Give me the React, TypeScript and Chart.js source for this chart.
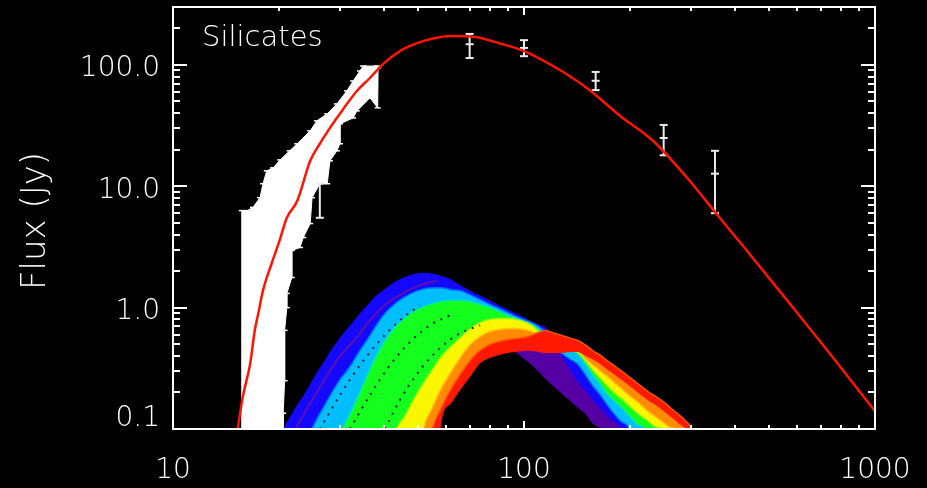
import React, { useEffect, useRef } from "react";
import { Chart, registerables } from "chart.js";

Chart.register(...registerables);

// ---------- data ----------
// shared wavelength grid (micron) for the family of model curves
const GRID_X = [20, 21, 22, 23, 24, 25, 26, 27, 28, 30, 32, 34, 36, 38, 40, 43, 46, 49, 52, 55, 58, 62, 66, 70, 75, 80, 85, 90, 95, 100, 105, 110, 115, 120, 128, 135, 142, 150, 158, 165, 172, 180, 190, 200, 212, 225, 237, 250, 262, 275, 287, 300, 330];

// boundaries of the colour bands (Jy); 0.03 = below the plotted range
const CURVE_P = [0.03, 0.03, 0.097, 0.128, 0.157, 0.194, 0.234, 0.273, 0.323, 0.429, 0.539, 0.676, 0.817, 0.968, 1.106, 1.311, 1.468, 1.584, 1.645, 1.645, 1.584, 1.441, 1.238, 1.044, 0.848, 0.689, 0.57, 0.49, 0.429, 0.383, 0.342, 0.3, 0.262, 0.234, 0.198, 0.173, 0.152, 0.133, 0.11, 0.096, 0.03, 0.03, 0.03, 0.03, 0.03, 0.03, 0.03, 0.03, 0.03, 0.03, 0.03, 0.03, 0.03];
const CURVE_B = [0.075, 0.108, 0.135, 0.167, 0.201, 0.248, 0.3, 0.355, 0.421, 0.559, 0.702, 0.865, 1.044, 1.238, 1.387, 1.614, 1.774, 1.878, 1.913, 1.878, 1.808, 1.676, 1.496, 1.361, 1.238, 1.127, 1.025, 0.95, 0.881, 0.817, 0.757, 0.715, 0.676, 0.559, 0.406, 0.317, 0.253, 0.209, 0.173, 0.152, 0.133, 0.116, 0.1, 0.03, 0.03, 0.03, 0.03, 0.03, 0.03, 0.03, 0.03, 0.03, 0.03];
const CURVE_C = [0.03, 0.03, 0.03, 0.03, 0.07, 0.1, 0.125, 0.152, 0.183, 0.253, 0.323, 0.429, 0.549, 0.702, 0.865, 1.064, 1.215, 1.336, 1.414, 1.441, 1.441, 1.387, 1.361, 1.262, 1.148, 1.044, 0.968, 0.898, 0.832, 0.786, 0.743, 0.689, 0.615, 0.509, 0.429, 0.383, 0.349, 0.283, 0.226, 0.194, 0.164, 0.138, 0.116, 0.1, 0.03, 0.03, 0.03, 0.03, 0.03, 0.03, 0.03, 0.03, 0.03];
const CURVE_G = [0.03, 0.03, 0.03, 0.03, 0.03, 0.03, 0.03, 0.03, 0.03, 0.085, 0.13, 0.19, 0.278, 0.391, 0.509, 0.676, 0.817, 0.932, 1.006, 1.064, 1.106, 1.127, 1.127, 1.106, 1.044, 0.987, 0.915, 0.848, 0.801, 0.757, 0.715, 0.651, 0.581, 0.529, 0.481, 0.454, 0.429, 0.349, 0.278, 0.239, 0.201, 0.176, 0.152, 0.13, 0.11, 0.093, 0.03, 0.03, 0.03, 0.03, 0.03, 0.03, 0.03];
const CURVE_Y = [0.03, 0.03, 0.03, 0.03, 0.03, 0.03, 0.03, 0.03, 0.03, 0.03, 0.03, 0.03, 0.03, 0.03, 0.03, 0.09, 0.128, 0.18, 0.239, 0.305, 0.383, 0.472, 0.559, 0.651, 0.743, 0.786, 0.801, 0.801, 0.786, 0.757, 0.702, 0.627, 0.549, 0.499, 0.463, 0.446, 0.437, 0.369, 0.305, 0.267, 0.234, 0.205, 0.18, 0.157, 0.135, 0.119, 0.106, 0.0945, 0.03, 0.03, 0.03, 0.03, 0.03];
const CURVE_O = [0.03, 0.03, 0.03, 0.03, 0.03, 0.03, 0.03, 0.03, 0.03, 0.03, 0.03, 0.03, 0.03, 0.03, 0.03, 0.03, 0.03, 0.03, 0.1, 0.149, 0.209, 0.289, 0.383, 0.481, 0.57, 0.627, 0.651, 0.663, 0.663, 0.651, 0.627, 0.581, 0.519, 0.481, 0.454, 0.446, 0.446, 0.383, 0.336, 0.305, 0.278, 0.248, 0.217, 0.19, 0.167, 0.143, 0.128, 0.114, 0.104, 0.0945, 0.03, 0.03, 0.03];
const CURVE_R1 = [0.03, 0.03, 0.03, 0.03, 0.03, 0.03, 0.03, 0.03, 0.03, 0.03, 0.03, 0.03, 0.03, 0.03, 0.03, 0.03, 0.03, 0.03, 0.03, 0.096, 0.143, 0.209, 0.278, 0.355, 0.437, 0.49, 0.519, 0.539, 0.549, 0.559, 0.581, 0.615, 0.639, 0.615, 0.581, 0.553, 0.529, 0.481, 0.429, 0.398, 0.362, 0.329, 0.294, 0.262, 0.23, 0.201, 0.183, 0.164, 0.146, 0.13, 0.116, 0.099, 0.03];
const CURVE_R2 = [0.03, 0.03, 0.03, 0.03, 0.03, 0.03, 0.03, 0.03, 0.03, 0.03, 0.03, 0.03, 0.03, 0.03, 0.03, 0.03, 0.03, 0.03, 0.03, 0.03, 0.119, 0.167, 0.217, 0.273, 0.355, 0.391, 0.413, 0.429, 0.437, 0.446, 0.446, 0.437, 0.429, 0.429, 0.429, 0.437, 0.437, 0.406, 0.376, 0.349, 0.317, 0.289, 0.257, 0.23, 0.201, 0.176, 0.16, 0.143, 0.128, 0.114, 0.104, 0.093, 0.03];

// dark violet streak inside the blue edge, and dotted black streaks
const STREAK_X = [22.3, 26.2, 29.3, 33.4, 36.4, 40.7, 45.2, 50.5, 56.5];
const STREAK_Y = [0.1, 0.221, 0.369, 0.57, 0.786, 1.085, 1.311, 1.525, 1.676];
const DOT1_X = [26.2, 29.9, 34.1, 38.9, 44.3, 50.5];
const DOT1_Y = [0.1, 0.19, 0.336, 0.539, 0.786, 1.044];
const DOT2_X = [31.9, 36.4, 41.5, 47.3, 53.9, 61.5];
const DOT2_Y = [0.1, 0.19, 0.336, 0.519, 0.715, 0.865];
const DOT3_X = [40.2, 44.3, 50.5, 57.6, 65.7, 75.0];
const DOT3_Y = [0.1, 0.173, 0.305, 0.463, 0.615, 0.715];

// best-fit model (red)
const FIT_X = [15.2, 15.8, 16.6, 17.1, 17.5, 18.05, 19.1, 20.2, 21.1, 22.6, 24.6, 26.2, 28.0, 30.5, 33.4, 36.4, 39.7, 44.3, 49.6, 55, 61.5, 72.5, 87, 100, 121, 151, 188, 233, 291, 361, 431, 584, 758, 1000];
const FIT_Y = [0.09, 0.183, 0.349, 0.651, 0.898, 1.387, 2.31, 3.7, 5.5, 7.6, 16.2, 22.4, 30.3, 43, 61, 78, 102, 130, 151, 165, 173, 170, 148, 130, 98, 64.6, 38, 23.7, 11.8, 5.5, 2.96, 1.0, 0.39, 0.14];

// photometry with error bars
const PHOT_X = [70, 100, 160, 250, 350];
const PHOT_Y = [148, 138, 74, 25, 12.7];
const PHOT_LO = [114, 118, 62, 18, 6.0];
const PHOT_HI = [180, 160, 87.5, 32, 19.6];

// IRS spectrum envelope (upper edge then lower edge)
const SPEC_UP_X = [15.7, 15.7, 16.3, 16.9, 17.7, 18.05, 18.5, 19.3, 20.2, 21.5, 22.6, 24.6, 25.7, 27.5, 29.3, 31.3, 32.6, 34.1, 34.8, 38.1];
const SPEC_UP_Y = [0.05, 6.3, 6.3, 6.7, 8.05, 10.5, 13.4, 14.2, 16.5, 19.6, 22.4, 28.6, 34.6, 39.5, 47.7, 61.1, 73.7, 89.1, 97.9, 97.9];
const SPEC_LO_X = [38.4, 38.3, 36.4, 33.4, 32.6, 29.9, 29.9, 29.3, 28.0, 27.5, 26.2, 24.9, 24.6, 23.5, 23.0, 21.8, 21.8, 21.1, 21.1, 20.8, 20.8, 20.6, 20.6];
const SPEC_LO_Y = [94.4, 44.3, 53.5, 41.8, 36.6, 32.7, 22.4, 19.6, 16.2, 10.5, 10.5, 8.05, 4.93, 3.78, 3.13, 2.96, 1.77, 1.31, 1.0, 0.65, 0.25, 0.135, 0.05];
const SPEC_BAR_X = [26.2];
const SPEC_BAR_LO = [5.5];
const SPEC_BAR_HI = [10.5];

// axes
const X_MIN = 10, X_MAX = 1000, Y_MIN = 0.1, Y_MAX = 300;
const X_MAJOR = [10, 100, 1000];
const X_LABELS = ["10", "100", "1000"];
const X_MINOR = [20, 30, 40, 50, 60, 70, 80, 90, 200, 300, 400, 500, 600, 700, 800, 900];
const Y_MAJOR = [0.1, 1, 10, 100];
const Y_LABELS = ["0.1", "1.0", "10.0", "100.0"];
const Y_MINOR = [0.2, 0.3, 0.4, 0.5, 0.6, 0.7, 0.8, 0.9, 2, 3, 4, 5, 6, 7, 8, 9, 20, 30, 40, 50, 60, 70, 80, 90, 200];

const FONT_FAMILY = '"DejaVu Sans", "Open Sans", sans-serif';

const COL = {
  purple: "rgb(85,0,165)",
  blue: "rgb(20,8,255)",
  cyan: "rgb(0,190,255)",
  green: "rgb(20,255,30)",
  yellow: "rgb(250,245,0)",
  orange: "rgb(255,140,0)",
  red: "rgb(255,25,0)",
  fit: "rgb(255,20,0)",
  white: "rgb(235,235,235)",
};
// softer tones along the band boundaries
const EDGE = {
  c: "rgb(0,105,255)",
  g: "rgb(0,235,170)",
  y: "rgb(150,255,10)",
  o: "rgb(255,200,0)",
  r1: "rgb(255,85,0)",
};

const xy = (xs: number[], ys: number[]) => xs.map((x, i) => ({ x, y: ys[i] }));

const decorPlugin = {
  id: "decor",
  beforeDraw(chart: any) {
    const { ctx, width, height } = chart;
    ctx.save();
    ctx.fillStyle = "#000";
    ctx.fillRect(0, 0, width, height);
    ctx.restore();
  },
  afterDraw(chart: any) {
    const { ctx, chartArea: a, scales } = chart;
    const sx = scales.x, sy = scales.y;
    ctx.save();
    ctx.strokeStyle = "#fff";
    ctx.lineWidth = 2;
    ctx.strokeRect(a.left, a.top, a.right - a.left, a.bottom - a.top);
    const xMaj = 8, xMin = 4, yMaj = 14, yMin = 7;
    ctx.beginPath();
    for (const v of X_MAJOR.concat(X_MINOR)) {
      const len = X_MAJOR.includes(v) ? xMaj : xMin;
      const px = Math.round(sx.getPixelForValue(v));
      ctx.moveTo(px, a.bottom); ctx.lineTo(px, a.bottom - len);
      ctx.moveTo(px, a.top); ctx.lineTo(px, a.top + len);
    }
    for (const v of Y_MAJOR.concat(Y_MINOR)) {
      const len = Y_MAJOR.includes(v) ? yMaj : yMin;
      const py = Math.round(sy.getPixelForValue(v));
      ctx.moveTo(a.left, py); ctx.lineTo(a.left + len, py);
      ctx.moveTo(a.right, py); ctx.lineTo(a.right - len, py);
    }
    ctx.stroke();

    ctx.fillStyle = "#fff";
    ctx.font = `200 28px ${FONT_FAMILY}`;
    ctx.textBaseline = "middle";
    ctx.textAlign = "center";
    X_MAJOR.forEach((v, i) => {
      ctx.fillText(X_LABELS[i], sx.getPixelForValue(v), a.bottom + 42);
    });
    ctx.textAlign = "right";
    Y_MAJOR.forEach((v, i) => {
      const py = Math.min(sy.getPixelForValue(v) + 4, a.bottom - 10);
      ctx.fillText(Y_LABELS[i], a.left - 13, py);
    });
    // axis title
    ctx.save();
    ctx.translate(36, (a.top + a.bottom) / 2 + 3);
    ctx.rotate(-Math.PI / 2);
    ctx.textAlign = "center";
    ctx.font = `200 34px ${FONT_FAMILY}`;
    ctx.fillText("Flux (Jy)", 0, 0);
    ctx.restore();
    // panel label
    ctx.textAlign = "left";
    ctx.textBaseline = "alphabetic";
    ctx.font = `200 29px ${FONT_FAMILY}`;
    ctx.fillText("Silicates", a.left + 29, a.top + 39);
    ctx.restore();
  },
};

export default function App() {
  const ref = useRef<HTMLCanvasElement | null>(null);
  useEffect(() => {
    if (!ref.current) return;
    const bar = (x: number, lo: number, mid: number | null, hi: number) => ({
      data: mid === null ? [{ x, y: lo }, { x, y: hi }] : [{ x, y: lo }, { x, y: mid }, { x, y: hi }],
      borderColor: COL.white,
      borderWidth: 2,
      pointStyle: "line",
      pointRadius: 4,
      pointBorderWidth: 2,
      pointBorderColor: COL.white,
      fill: false,
    });
    const band = (ys: number[], color: string, edge: string, target: number | false, bw = 3) => ({
      data: xy(GRID_X, ys),
      borderColor: edge,
      borderWidth: bw,
      backgroundColor: color,
      fill: target === false ? false : { target, above: color, below: color },
      pointRadius: 0,
      cubicInterpolationMode: "monotone",
    });
    const dots = (xs: number[], ys: number[]) => ({
      data: xy(xs, ys),
      borderColor: "rgba(0,0,0,0.85)",
      borderWidth: 2,
      borderDash: [2, 6],
      pointRadius: 0,
      fill: false,
      cubicInterpolationMode: "monotone",
    });

    const datasets: any[] = [];
    datasets.push({ data: xy(FIT_X, FIT_Y), borderColor: COL.fit, borderWidth: 2.5, pointRadius: 0, fill: false, cubicInterpolationMode: "monotone" });
    PHOT_X.forEach((x, i) => datasets.push(bar(x, PHOT_LO[i], PHOT_Y[i], PHOT_HI[i])));
    SPEC_BAR_X.forEach((x, i) => datasets.push(bar(x, SPEC_BAR_LO[i], null, SPEC_BAR_HI[i])));
    datasets.push({
      data: xy(SPEC_UP_X.concat(SPEC_LO_X), SPEC_UP_Y.concat(SPEC_LO_Y)),
      borderColor: "#fff",
      borderWidth: 1,
      backgroundColor: "#fff",
      fill: "shape",
      pointStyle: "line",
      pointRadius: 3,
      pointBorderWidth: 1.5,
      pointBorderColor: "#fff",
    });
    datasets.push(dots(DOT1_X, DOT1_Y));
    datasets.push(dots(DOT2_X, DOT2_Y));
    datasets.push(dots(DOT3_X, DOT3_Y));
    datasets.push({ data: xy(STREAK_X, STREAK_Y), borderColor: "rgb(95,15,170)", borderWidth: 2, pointRadius: 0, fill: false, cubicInterpolationMode: "monotone" });
    const base = datasets.length;
    const iR1 = base + 1, iO = base + 2, iY = base + 3, iG = base + 4, iC = base + 5, iB = base + 6;
    datasets.push(band(CURVE_R2, COL.red, COL.red, iR1, 1.5));
    datasets.push(band(CURVE_R1, COL.orange, EDGE.r1, iO));
    datasets.push(band(CURVE_O, COL.yellow, EDGE.o, iY));
    datasets.push(band(CURVE_Y, COL.green, EDGE.y, iG));
    datasets.push(band(CURVE_G, COL.cyan, EDGE.g, iC));
    datasets.push(band(CURVE_C, COL.blue, EDGE.c, iB));
    datasets.push(band(CURVE_B, COL.blue, COL.blue, false, 1.5));
    datasets.push(band(CURVE_P, COL.purple, COL.purple, iB, 1));

    const chart = new Chart(ref.current, {
      type: "line",
      data: { datasets },
      options: {
        animation: false,
        responsive: false,
        devicePixelRatio: 1,
        layout: { padding: { left: 173, top: 7, right: 52, bottom: 59 } },
        plugins: { legend: { display: false }, tooltip: { enabled: false }, filler: { propagate: false } },
        elements: { line: { tension: 0 }, point: { radius: 0 } },
        scales: {
          x: { type: "logarithmic", min: X_MIN, max: X_MAX, display: false },
          y: { type: "logarithmic", min: Y_MIN, max: Y_MAX, display: false },
        },
      } as any,
      plugins: [decorPlugin],
    });
    return () => chart.destroy();
  }, []);

  return (
    <div style={{ position: "fixed", left: 0, top: 0, width: 927, height: 488, background: "#000" }}>
      <canvas ref={ref} width={927} height={488} style={{ display: "block", width: 927, height: 488 }} />
    </div>
  );
}
